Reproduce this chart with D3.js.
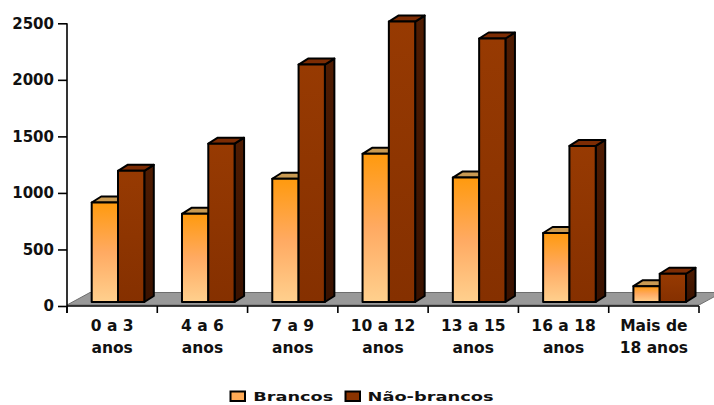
<!DOCTYPE html>
<html>
<head>
<meta charset="utf-8">
<script src="https://cdn.jsdelivr.net/npm/d3@7"></script>
<style>
  html, body { margin: 0; padding: 0; background: #fff; }
  svg { display: block; }
  text { font-family: "DejaVu Sans", Verdana, sans-serif; font-weight: bold; fill: #111; }
</style>
</head>
<body>
<svg id="chart" width="714" height="405"></svg>
<script>
// Age groups (two-line labels) and counts per group
const categories = ["0 a 3|anos", "4 a 6|anos", "7 a 9|anos", "10 a 12|anos", "13 a 15|anos", "16 a 18|anos", "Mais de|18 anos"];
const brancos    = [880, 780, 1090, 1310, 1100, 610, 140];
const naoBrancos = [1160, 1400, 2100, 2480, 2330, 1380, 250];
const seriesNames = ["Brancos", "Não-brancos"];
const yTicks = [0, 500, 1000, 1500, 2000, 2500];

const svg = d3.select("#chart");

const x = d3.scaleBand().domain(categories).range([67, 699]).paddingInner(0).paddingOuter(0);
const y = d3.scaleLinear().domain([0, 2500]).range([306, 23.3]);

// oblique projection used for the 3D look
const plane = { dx: 6, dy: -4 };   // bar front plane behind the axis plane
const depth = { dx: 9.5, dy: -6 }; // bar depth
const floorDepth = { dx: 23, dy: -12.5 };
const barOffset = 24.7, barW = 26.3;

const defs = svg.append("defs");
const gB = defs.append("linearGradient").attr("id", "gradB").attr("x1", 0).attr("y1", 0).attr("x2", 0).attr("y2", 1);
gB.append("stop").attr("offset", "0%").attr("stop-color", "#ff9a0e");
gB.append("stop").attr("offset", "50%").attr("stop-color", "#ffaa62");
gB.append("stop").attr("offset", "100%").attr("stop-color", "#ffd08e");
const gN = defs.append("linearGradient").attr("id", "gradN").attr("x1", 0).attr("y1", 0).attr("x2", 0).attr("y2", 1);
gN.append("stop").attr("offset", "0%").attr("stop-color", "#973a02");
gN.append("stop").attr("offset", "100%").attr("stop-color", "#853000");
const gNs = defs.append("linearGradient").attr("id", "gradNs").attr("x1", 0).attr("y1", 0).attr("x2", 0).attr("y2", 1);
gNs.append("stop").attr("offset", "0%").attr("stop-color", "#4f1c02");
gNs.append("stop").attr("offset", "100%").attr("stop-color", "#3a1200");

// floor
const fx0 = x.range()[0], fx1 = x.range()[1], fy = y(0) - 1;
svg.append("polygon")
  .attr("points", [
    [fx0, fy], [fx1, fy],
    [fx1 + floorDepth.dx, fy + floorDepth.dy],
    [fx0 + floorDepth.dx, fy + floorDepth.dy]
  ].map(p => p.join(",")).join(" "))
  .attr("fill", "#999999").attr("stroke", "#6e6e6e").attr("stroke-width", 1);

// bars
const styles = [
  { front: "url(#gradB)", side: "#c47a20", top: "#c99a52" },
  { front: "url(#gradN)", side: "url(#gradNs)", top: "#7c2c04" }
];
const bars = [];
categories.forEach((c, i) => {
  [brancos[i], naoBrancos[i]].forEach((v, s) => {
    bars.push({ c, v, s });
  });
});

const gBars = svg.append("g");
bars.forEach(d => {
  const st = styles[d.s];
  const x0 = x(d.c) + barOffset + d.s * barW;
  const x1 = x0 + barW;
  const yTop = y(d.v) + plane.dy;
  const yBot = y(0) + plane.dy;
  const g = gBars.append("g").attr("stroke", "#000").attr("stroke-width", 2).attr("stroke-linejoin", "round");
  // side face
  g.append("polygon").attr("points", [
    [x1, yTop], [x1 + depth.dx, yTop + depth.dy], [x1 + depth.dx, yBot + depth.dy], [x1, yBot]
  ].map(p => p.join(",")).join(" ")).attr("fill", st.side);
  // top face
  g.append("polygon").attr("points", [
    [x0, yTop], [x0 + depth.dx, yTop + depth.dy], [x1 + depth.dx, yTop + depth.dy], [x1, yTop]
  ].map(p => p.join(",")).join(" ")).attr("fill", st.top);
  // front face
  g.append("rect").attr("x", x0).attr("y", yTop).attr("width", barW).attr("height", yBot - yTop)
    .attr("fill", st.front);
});

// y axis
const yAxis = svg.append("g").attr("transform", `translate(${fx0},0)`)
  .call(d3.axisLeft(y).tickValues(yTicks).tickFormat(d3.format("d")).tickSize(9).tickSizeOuter(0).tickPadding(4));
yAxis.select(".domain").attr("stroke", "#000").attr("stroke-width", 1.6).attr("d", `M0,${y(2500)}V${y(0) + 7}`);
yAxis.selectAll(".tick line").attr("stroke", "#000").attr("stroke-width", 1.6);
yAxis.selectAll(".tick text").attr("font-size", 15).attr("fill", "#111")
  .attr("font-family", "DejaVu Sans").attr("font-weight", "bold");

// x axis
const xAxis = svg.append("g").attr("transform", `translate(0,${y(0)})`)
  .call(d3.axisBottom(x).tickSize(0).tickFormat(""));
xAxis.select(".domain").attr("stroke", "#000").attr("stroke-width", 1.6).attr("d", `M${fx0},0H${fx1}`);
xAxis.selectAll(".tick").remove();
const edges = categories.map(c => x(c)).concat([fx1]);
xAxis.selectAll("line.sep").data(edges).join("line").attr("class", "sep")
  .attr("x1", d => d).attr("x2", d => d).attr("y1", 0).attr("y2", 7)
  .attr("stroke", "#000").attr("stroke-width", 1.6);

// category labels
const lab = svg.append("g");
categories.forEach(c => {
  const lines = c.split("|");
  const cx = x(c) + x.bandwidth() / 2;
  lines.forEach((t, k) => {
    lab.append("text").attr("x", cx).attr("y", 331 + k * 22).attr("text-anchor", "middle")
      .attr("font-size", 15.5).text(t);
  });
});

// legend
const legend = svg.append("g");
const legendItems = [
  { name: seriesNames[0], box: 230.5, tx: 253.3, tw: 80, fill: "#ffaa55" },
  { name: seriesNames[1], box: 345.5, tx: 367.5, tw: 126, fill: "#8b3300" }
];
legendItems.forEach(it => {
  legend.append("rect").attr("x", it.box).attr("y", 391.5).attr("width", 14.5).attr("height", 9.5)
    .attr("fill", it.fill).attr("stroke", "#000").attr("stroke-width", 2);
  legend.append("text").attr("x", it.tx).attr("y", 401).attr("font-size", 13)
    .attr("textLength", it.tw).attr("lengthAdjust", "spacingAndGlyphs").text(it.name);
});
</script>
</body>
</html>
